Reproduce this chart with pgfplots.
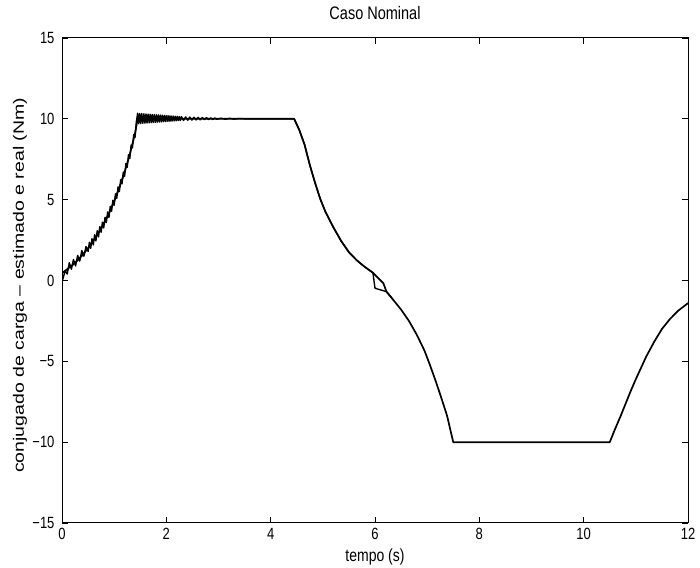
\documentclass[border=0pt]{standalone}
\usepackage{fontspec}
\setmainfont{Liberation Sans}
\usepackage{pgfplots}
\pgfplotsset{compat=1.18}

% torque: real load (smooth) and estimated (oscillating at start)
\pgfplotstableread{
t y
0.00 0.45
0.10 0.70
0.20 0.95
0.30 1.25
0.40 1.60
0.50 2.00
0.60 2.45
0.70 2.95
0.80 3.50
0.90 4.15
1.00 4.90
1.10 5.75
1.20 6.70
1.30 7.80
1.40 9.10
1.45 10.00
4.45 10.00
4.55 9.30
4.65 8.40
4.75 7.15
4.85 6.05
4.95 5.05
5.05 4.25
5.20 3.30
5.35 2.45
5.50 1.75
5.65 1.25
5.80 0.85
5.96 0.48
6.16 -0.17
6.22 -0.69
6.35 -1.20
6.50 -1.80
6.65 -2.50
6.80 -3.35
6.95 -4.35
7.05 -5.20
7.15 -6.10
7.25 -7.05
7.38 -8.35
7.50 -10.00
10.50 -10.00
10.60 -9.20
10.70 -8.45
10.80 -7.65
10.90 -6.85
11.00 -6.10
11.10 -5.40
11.20 -4.70
11.35 -3.80
11.50 -3.00
11.65 -2.40
11.80 -1.90
12.00 -1.40
}\real

\pgfplotstableread{
t y
0.00 -0.10
0.06 0.60
0.10 0.40
0.14 1.10
0.18 0.70
0.22 1.30
0.26 0.90
0.30 1.55
0.34 1.20
0.38 1.85
0.42 1.50
0.46 2.10
0.500 1.80
0.525 2.36
0.550 1.98
0.575 2.59
0.600 2.20
0.625 2.83
0.650 2.45
0.675 3.08
0.700 2.70
0.725 3.34
0.750 2.98
0.775 3.61
0.800 3.25
0.825 3.91
0.850 3.58
0.875 4.24
0.900 3.90
0.925 4.59
0.950 4.28
0.975 4.96
1.000 4.65
1.025 5.36
1.050 5.08
1.075 5.79
1.100 5.50
1.125 6.24
1.150 5.98
1.175 6.71
1.200 6.45
1.225 7.23
1.250 7.00
1.275 7.78
1.300 7.55
1.325 8.38
1.350 8.20
1.375 9.03
1.400 8.85
1.425 9.80
1.450 10.35
1.47 9.70
1.49 10.33
1.51 9.70
1.53 10.32
1.55 9.72
1.57 10.31
1.59 9.73
1.61 10.30
1.63 9.74
1.65 10.29
1.67 9.75
1.69 10.28
1.71 9.76
1.73 10.27
1.75 9.77
1.77 10.26
1.79 9.78
1.81 10.25
1.83 9.79
1.85 10.24
1.87 9.80
1.89 10.23
1.91 9.81
1.93 10.22
1.95 9.82
1.97 10.21
1.99 9.83
2.01 10.20
2.03 9.84
2.05 10.19
2.07 9.85
2.09 10.18
2.11 9.86
2.13 10.17
2.15 9.87
2.17 10.16
2.19 9.88
2.21 10.15
2.23 9.89
2.25 10.14
2.27 9.90
2.29 10.13
2.33 9.90
2.37 10.12
2.41 9.91
2.45 10.11
2.49 9.92
2.53 10.10
2.57 9.93
2.61 10.09
2.65 9.94
2.69 10.08
2.73 9.95
2.77 10.07
2.81 9.95
2.85 10.06
2.89 9.96
2.93 10.05
2.97 9.97
3.05 10.04
3.13 9.97
3.21 10.03
3.30 9.98
3.40 10.02
3.50 10.00
4.45 10.00
4.55 9.30
4.65 8.40
4.75 7.15
4.85 6.05
4.95 5.05
5.05 4.25
5.20 3.30
5.35 2.45
5.50 1.75
5.65 1.25
5.80 0.85
5.96 0.48
6.00 -0.48
6.22 -0.69
6.35 -1.20
}\estim

\newcommand{\tl}[1]{\scalebox{1}[1.25]{#1}}

\begin{document}
\begin{tikzpicture}
\begin{axis}[
    scale only axis,
    width=626pt, height=485pt,
    xmin=0, xmax=12, ymin=-15, ymax=15,
    xtick={0,2,...,12},
    xticklabels={\tl{0},\tl{2},\tl{4},\tl{6},\tl{8},\tl{10},\tl{12}},
    ytick={-15,-10,...,15},
    yticklabels={\tl{−15},\tl{−10},\tl{−5},\tl{0},\tl{5},\tl{10},\tl{15}},
    tick align=inside,
    major tick length=6pt,
    tick style={black, line width=0.7pt},
    axis line style={line width=1pt},
    /pgf/number format/assume math mode=true,
    tick label style={font=\fontsize{13}{15}\selectfont},
    yticklabel style={xshift=-4pt},
    xticklabel style={yshift=-2pt},
    title={\tl{Caso Nominal}},
    title style={font=\fontsize{14.5}{16}\selectfont, at={(axis description cs:0.5,1.04)}, anchor=center},
    xlabel={\tl{tempo (s)}},
    xlabel style={font=\fontsize{14}{16}\selectfont, at={(axis description cs:0.5,-0.07)}, anchor=center},
    ylabel={\scalebox{1.3}[1]{conjugado de carga -- estimado e real (Nm)}},
    ylabel style={font=\fontsize{15}{17}\selectfont, at={(axis description cs:-0.067,0.49)}, anchor=center},
]
\addplot[black, line width=1.7pt, line join=round] table[x=t, y=y] {\real};
\addplot[black, line width=1.4pt, line join=round] table[x=t, y=y] {\estim};
\end{axis}
\pgfresetboundingbox
\path[use as bounding box] ([shift={(-62pt,-45pt)}]current axis.south west) rectangle ([shift={(12pt,38pt)}]current axis.north east);
\end{tikzpicture}
\end{document}
